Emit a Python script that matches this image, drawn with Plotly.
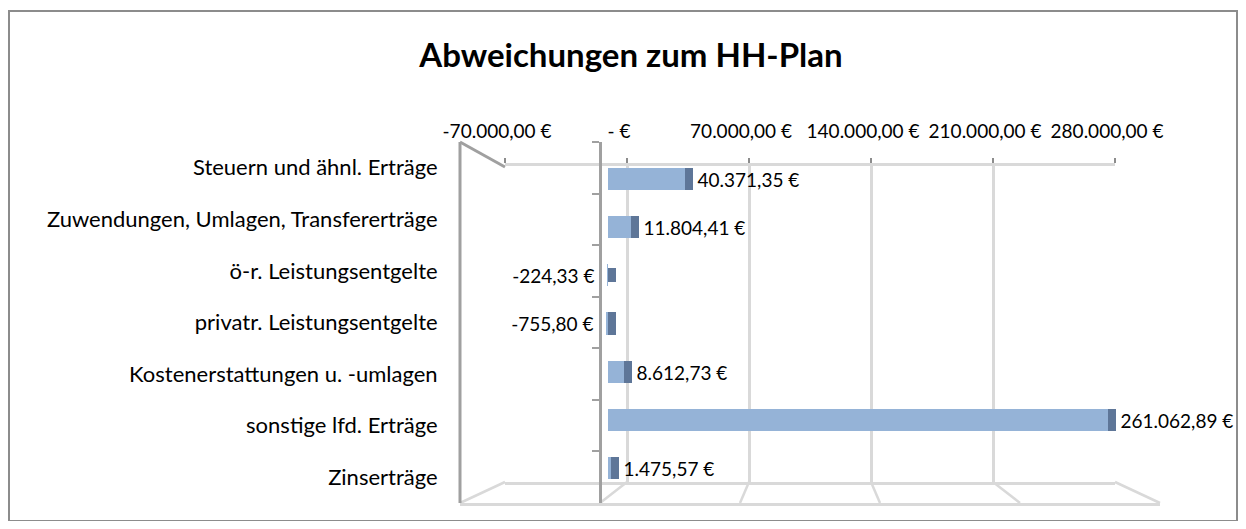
import plotly.graph_objects as go

# ---------------- data ----------------
categories = [
    "Steuern und ähnl. Erträge",
    "Zuwendungen, Umlagen, Transfererträge",
    "ö-r. Leistungsentgelte",
    "privatr. Leistungsentgelte",
    "Kostenerstattungen u. -umlagen",
    "sonstige lfd. Erträge",
    "Zinserträge",
]
values = [40371.35, 11804.41, -224.33, -755.80, 8612.73, 261062.89, 1475.57]
tick_values = [-70000, 0, 70000, 140000, 210000, 280000]
tick_labels = ["-70.000,00 €", "- €", "70.000,00 €", "140.000,00 €", "210.000,00 €", "280.000,00 €"]
title_text = "Abweichungen zum HH-Plan"


def de_fmt(v):
    s = f"{v:,.2f}".replace(",", "X").replace(".", ",").replace("X", ".")
    return s + " €"


labels = [("\u2002" + de_fmt(v)) if v >= 0 else (de_fmt(v) + "\u2002") for v in values]

# ---------------- geometry (pixels of the 1246x529 window) ----------------
WIN_W, WIN_H = 1246, 529
OFF = 8  # page body margin
W, H = WIN_W - 2 * OFF, WIN_H - 2 * OFF
FONT = "Lato"


def fx(px):
    return (px - OFF) / W


def fy(py):
    return 1 - (py - OFF) / H


# back wall
BX0, BX1, BY0, BY1 = 505, 1115, 166, 482
# front plane (floor front edge / axis)
FX0, FX1, FY0, FY1 = 460, 1160, 142, 503
ZERO_X = 600
# bars plane
BAR_ZERO = 608
BAR_SCALE = 1.915 / 1000  # px per unit
BAR_Y0, BAR_Y1 = 155, 492
DEPTH = 8
ncat = len(categories)
cat_px = (BAR_Y1 - BAR_Y0) / ncat
bar_w = 0.46
bar_range = [(FX0 - BAR_ZERO) / BAR_SCALE, (FX1 - BAR_ZERO) / BAR_SCALE]
vmin, vmax = tick_values[0], tick_values[-1]

grid_col = "#d9d9d9"
dark_col = "#a0a0a0"
face_col = "#95B3D7"
side_col = "#5E7698"

fig = go.Figure()

# subplot 1: back wall (grid)
fig.add_trace(go.Scatter(x=[vmin, vmax], y=[0, 1], mode="markers", marker=dict(opacity=0),
                         hoverinfo="skip", showlegend=False, xaxis="x", yaxis="y"))
# subplot 2: bar depth (side faces)
fig.add_trace(go.Bar(y=categories, x=values, orientation="h", width=bar_w - DEPTH / cat_px,
                     marker=dict(color=side_col, line=dict(color=side_col, width=DEPTH)),
                     hoverinfo="skip", showlegend=False, xaxis="x2", yaxis="y2"))
# subplot 3: bar front faces
fig.add_trace(go.Bar(y=categories, x=values, orientation="h", width=bar_w,
                     marker=dict(color=face_col, line=dict(width=0)),
                     text=labels, textposition="outside", cliponaxis=False, constraintext="none",
                     textfont=dict(family=FONT, size=19, color="#000000"),
                     showlegend=False, xaxis="x3", yaxis="y3"))
# subplot 4: category axis
fig.add_trace(go.Scatter(y=categories, x=values, mode="markers", marker=dict(opacity=0),
                         hoverinfo="skip", showlegend=False, xaxis="x4", yaxis="y4"))

shapes = []
# floor lines from back wall to front edge
for v in tick_values:
    bx = BX0 + (v - vmin) / (vmax - vmin) * (BX1 - BX0)
    fxp = FX0 + (v - vmin) / (vmax - vmin) * (FX1 - FX0)
    shapes.append(dict(type="line", xref="paper", yref="paper", x0=fx(bx), y0=fy(BY1), x1=fx(fxp), y1=fy(FY1),
                       line=dict(color=grid_col, width=2.5), layer="below"))
# left side wall (dark)
shapes.append(dict(type="line", xref="paper", yref="paper", x0=fx(FX0), y0=fy(FY0), x1=fx(FX0), y1=fy(FY1),
                   line=dict(color=dark_col, width=3), layer="below"))
shapes.append(dict(type="line", xref="paper", yref="paper", x0=fx(FX0), y0=fy(FY0), x1=fx(BX0), y1=fy(BY0 + 1),
                   line=dict(color=dark_col, width=3), layer="below"))
# outer chart border
shapes.append(dict(type="rect", xref="paper", yref="paper", x0=fx(9), y0=fy(521), x1=fx(1237), y1=fy(11),
                   line=dict(color="#8c8c8c", width=2), fillcolor="rgba(0,0,0,0)", layer="below"))

fig.update_layout(
    width=W, height=H, autosize=False,
    margin=dict(l=0, r=0, t=0, b=0, pad=0, autoexpand=False),
    paper_bgcolor="#ffffff", plot_bgcolor="rgba(0,0,0,0)",
    font=dict(family=FONT, size=21, color="#000000"),
    title=dict(text=title_text, x=fx(631), xanchor="center", y=fy(55), yanchor="middle", automargin=False,
               font=dict(family=FONT, size=33, color="#000000", weight="bold")),
    shapes=shapes,
    bargap=0,
    showlegend=False,
    # back wall
    xaxis=dict(domain=[fx(BX0), fx(BX1)], range=[vmin, vmax], anchor="y", side="top", automargin=False,
               showgrid=True, gridcolor=grid_col, gridwidth=2.5, zeroline=False,
               showline=True, linecolor=grid_col, linewidth=3, mirror=True,
               tickvals=tick_values, ticktext=tick_labels, ticks="outside", ticklen=5,
               tickcolor="#8c8c8c", tickwidth=1.5, ticklabelstandoff=12, ticklabelshift=-8,
               tickfont=dict(family=FONT, size=19, color="#000000"), fixedrange=True),
    yaxis=dict(domain=[fy(BY1), fy(BY0)], range=[0, 1], anchor="x", visible=False, automargin=False,
               fixedrange=True),
    # depth
    xaxis2=dict(domain=[fx(FX0 + DEPTH / 2), fx(FX1 + DEPTH / 2)], range=bar_range, anchor="y2",
                visible=False, automargin=False, fixedrange=True),
    yaxis2=dict(domain=[fy(BAR_Y1), fy(BAR_Y0)], type="category", categoryarray=categories,
                range=[ncat - 0.5, -0.5], anchor="x2", visible=False, automargin=False, fixedrange=True),
    # front faces
    xaxis3=dict(domain=[fx(FX0), fx(FX1)], range=bar_range, anchor="y3", visible=False, automargin=False,
                fixedrange=True),
    yaxis3=dict(domain=[fy(BAR_Y1), fy(BAR_Y0)], type="category", categoryarray=categories,
                range=[ncat - 0.5, -0.5], anchor="x3", visible=False, automargin=False, fixedrange=True),
    # category axis
    xaxis4=dict(domain=[fx(FX0), fx(FX1)], range=[vmin, vmax], anchor="y4", showgrid=False, zeroline=False,
                showticklabels=False, showline=True, linecolor=grid_col, linewidth=3, automargin=False,
                fixedrange=True),
    yaxis4=dict(domain=[fy(FY1), fy(FY0)], type="category", categoryarray=categories,
                range=[ncat - 0.5, -0.5], anchor="free", position=fx(ZERO_X), showgrid=False,
                showline=True, linecolor=dark_col, linewidth=3, ticks="outside", tickson="boundaries",
                ticklen=7, tickcolor=dark_col, tickwidth=2, ticklabelstandoff=157, automargin=False,
                tickfont=dict(family=FONT, size=22, color="#000000"), fixedrange=True),
)

fig.write_html("out.html")
